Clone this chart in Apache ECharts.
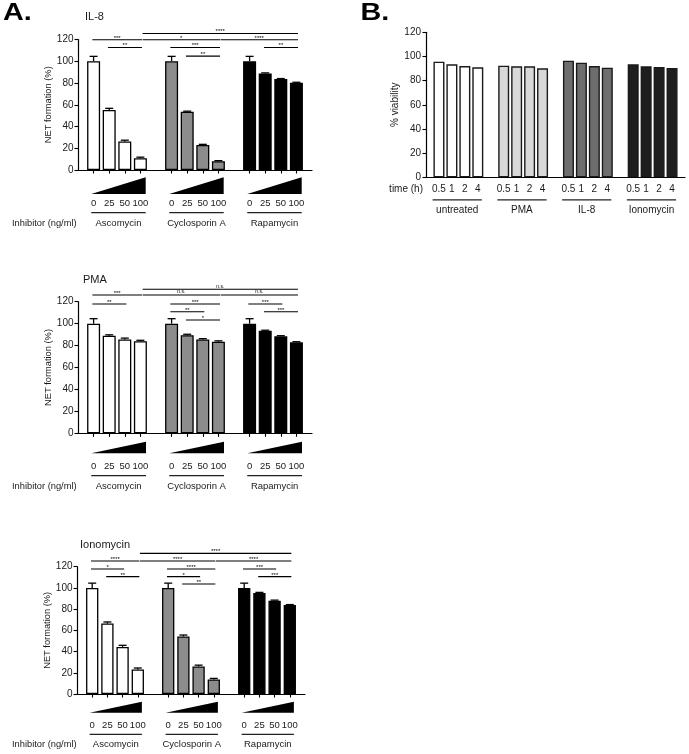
<!DOCTYPE html>
<html><head><meta charset="utf-8">
<script src="https://cdn.jsdelivr.net/npm/echarts@6/dist/echarts.min.js"></script>
<style>html,body{margin:0;padding:0;background:#fff}#c{width:689px;height:754px}</style>
</head><body><div id="c"></div><script>
const FONT = '"Liberation Sans", Arial, Helvetica, sans-serif';
const TXT = '#1a1a1a';

// ---------- Panel A data ----------
const doseLabels = ['0', '25', '50', '100'];
const inhibitors = ['Ascomycin', 'Cyclosporin A', 'Rapamycin'];
const inhibitorColors = ['#ffffff', '#8c8c8c', '#000000'];

const il8Ascomycin = [100, 55.2, 26.2, 10.8];
const il8Cyclosporin = [100, 53.5, 23, 8];
const il8Rapamycin = [100, 88.8, 83.6, 80.2];
const il8AscomycinErr = [4.5, 1.5, 1.2, 1];
const il8CyclosporinErr = [4.5, 0.6, 0.6, 0.6];
const il8RapamycinErr = [4.5, 0.5, 0.5, 0.5];

const pmaAscomycin = [100, 89, 85.5, 84];
const pmaCyclosporin = [100, 89.5, 85.5, 83.5];
const pmaRapamycin = [100, 93.5, 88.5, 83];
const pmaAscomycinErr = [4.5, 0.8, 1.3, 0.8];
const pmaCyclosporinErr = [4.5, 0.8, 0.8, 0.8];
const pmaRapamycinErr = [4.5, 0.5, 0.5, 0.5];

const ionoAscomycin = [100, 66.4, 44.4, 23.2];
const ionoCyclosporin = [100, 54.3, 25.9, 13.7];
const ionoRapamycin = [100, 95.3, 88, 83.8];
const ionoAscomycinErr = [4.5, 1.5, 1.5, 1.3];
const ionoCyclosporinErr = [4.5, 1.3, 1.3, 1];
const ionoRapamycinErr = [4.5, 0.5, 0.5, 0.5];

// significance brackets: [fromBar, toBar, level, label]  (bar = group*4 + dose)
const il8Brackets = [
  [3, 11, 125.5, '****'], [0, 3, 119.8, '***'], [3, 7, 119.8, '*'], [7, 11, 119.8, '****'],
  [1, 3, 112.7, '**'], [4, 7, 112.7, '***'], [9, 11, 112.7, '**'], [5, 7, 104.7, '**']
];
const pmaBrackets = [
  [3, 11, 131.3, 'n.s.'], [0, 3, 126.1, '***'], [3, 7, 126.1, 'n.s.'], [7, 11, 126.1, 'n.s.'],
  [0, 2, 117.9, '**'], [4, 7, 117.9, '***'], [8, 10, 117.9, '***'],
  [4, 6, 110.8, '**'], [9, 11, 110.8, '***'], [5, 7, 103.3, '*']
];
const ionoBrackets = [
  [3, 11, 132.6, '****'], [0, 3, 125.4, '****'], [3, 7, 125.4, '****'], [7, 11, 125.4, '****'],
  [0, 2, 117.8, '*'], [4, 7, 117.8, '****'], [8, 10, 117.8, '***'],
  [1, 3, 110.6, '**'], [4, 6, 110.6, '*'], [9, 11, 110.6, '***'], [5, 7, 103.7, '**']
];

// ---------- Panel B data ----------
const timeLabels = ['0.5', '1', '2', '4'];
const treatments = ['untreated', 'PMA', 'IL-8', 'Ionomycin'];
const treatmentColors = ['#ffffff', '#d8d8d8', '#6e6e6e', '#1e1e1e'];
const viabilityUntreated = [95.7, 93.5, 92.1, 91];
const viabilityPMA = [92.4, 91.9, 91.9, 90.2];
const viabilityIL8 = [96.5, 94.9, 92.1, 90.7];
const viabilityIonomycin = [93.5, 91.9, 91.3, 90.5];

// ---------- helpers ----------
function buildCats(groups, perGroup) {
  const cats = [], labels = [], isBar = [], colorIdx = [];
  let pad = 0;
  const addBlank = () => { cats.push('_' + (pad++)); labels.push(''); isBar.push(false); colorIdx.push(-1); };
  addBlank();
  groups.forEach((g, gi) => {
    if (gi > 0) addBlank();
    perGroup.forEach((d) => { cats.push(g + '|' + d); labels.push(d); isBar.push(true); colorIdx.push(gi); });
  });
  addBlank();
  return { cats, labels, isBar, colorIdx };
}
const catOf = (bar) => 1 + Math.floor(bar / 4) * 5 + (bar % 4);

function errRender(cap) {
  return function (params, api) {
    const x = api.value(0), v = api.value(1), e = api.value(2);
    const b = api.coord([x, v]), t = api.coord([x, v + e]);
    const st = { stroke: '#000', lineWidth: 1.3 };
    return { type: 'group', children: [
      { type: 'line', shape: { x1: b[0], y1: b[1], x2: t[0], y2: t[1] }, style: st },
      { type: 'line', shape: { x1: t[0] - cap / 2, y1: t[1], x2: t[0] + cap / 2, y2: t[1] }, style: st }
    ] };
  };
}

function bracketRender(list) {
  return function (params, api) {
    const item = list[params.dataIndex];
    const a = api.coord([api.value(0), api.value(2)]);
    const b = api.coord([api.value(1), api.value(2)]);
    const slot = api.coord([1, 0])[0] - api.coord([0, 0])[0];
    const fromDose = item[0] % 4;
    const x1 = a[0] + (fromDose === 3 ? 0.14 : -0.08) * slot;
    const x2 = b[0] + 0.1 * slot;
    const isNs = item[3] === 'n.s.';
    return { type: 'group', children: [
      { type: 'line', shape: { x1: x1, y1: a[1], x2: x2, y2: b[1] }, style: { stroke: '#000', lineWidth: 1.1 } },
      { type: 'text', x: (x1 + x2) / 2, y: a[1] + (isNs ? -0.6 : 1.2),
        style: { text: item[3], fontSize: isNs ? 5 : 6, fontFamily: FONT, fill: '#000',
          align: 'center', verticalAlign: 'bottom', textAlign: 'center', textVerticalAlign: 'bottom' } }
    ] };
  };
}

function decoRender(names, o) {
  return function (params, api) {
    const p0 = api.coord([api.value(0), 0]);
    const p1 = api.coord([api.value(1), 0]);
    const slot = api.coord([1, 0])[0] - api.coord([0, 0])[0];
    const xl = p0[0] + o.left * slot, xr = p1[0] + o.right * slot, y0 = p0[1];
    const children = [];
    if (o.tri) {
      children.push({ type: 'polygon', shape: { points: [[xl, y0 + o.tri[1]], [xr, y0 + o.tri[1]], [xr, y0 + o.tri[0]]] },
        style: { fill: '#000' } });
    }
    children.push({ type: 'line', shape: { x1: xl, y1: y0 + o.line, x2: xr, y2: y0 + o.line },
      style: { stroke: '#222', lineWidth: 1.3 } });
    children.push({ type: 'text', x: (xl + xr) / 2, y: y0 + o.label,
      style: { text: names[params.dataIndex], fontSize: o.fontSize, fontFamily: FONT, fill: TXT,
        align: 'center', verticalAlign: 'middle', textAlign: 'center', textVerticalAlign: 'middle' } });
    return { type: 'group', children: children };
  };
}

const option = {
  animation: false, backgroundColor: '#fff', textStyle: { fontFamily: FONT },
  grid: [], xAxis: [], yAxis: [], series: [], graphic: []
};

const panelsA = [
  { title: 'IL-8', titlePos: [85, 17.3], vals: [il8Ascomycin, il8Cyclosporin, il8Rapamycin],
    errs: [il8AscomycinErr, il8CyclosporinErr, il8RapamycinErr], brackets: il8Brackets,
    grid: { left: 78, top: 39.5, width: 234, height: 130.5 }, barWidth: 13, labelMargin: 28.5,
    deco: { left: -0.15, right: 0.34, tri: [7.3, 24], line: 42.7, label: 53.3, fontSize: 9.5 } },
  { title: 'PMA', titlePos: [83, 280], vals: [pmaAscomycin, pmaCyclosporin, pmaRapamycin],
    errs: [pmaAscomycinErr, pmaCyclosporinErr, pmaRapamycinErr], brackets: pmaBrackets,
    grid: { left: 78, top: 301.7, width: 234, height: 131.6 }, barWidth: 13, labelMargin: 28,
    deco: { left: -0.15, right: 0.36, tri: [8.4, 20], line: 42.4, label: 53.4, fontSize: 9.5 } },
  { title: 'Ionomycin', titlePos: [80, 545], vals: [ionoAscomycin, ionoCyclosporin, ionoRapamycin],
    errs: [ionoAscomycinErr, ionoCyclosporinErr, ionoRapamycinErr], brackets: ionoBrackets,
    grid: { left: 77, top: 566.7, width: 228, height: 127.3 }, barWidth: 12.3, labelMargin: 26.5,
    deco: { left: -0.17, right: 0.27, tri: [7.7, 18.7], line: 40.3, label: 50.3, fontSize: 9.5 } }
];

const A = buildCats(inhibitors, doseLabels);

panelsA.forEach((p, i) => {
  option.grid.push(Object.assign({ containLabel: false }, p.grid));
  option.xAxis.push({
    gridIndex: i, type: 'category', data: A.cats, boundaryGap: false,
    axisLine: { lineStyle: { color: '#000', width: 1.2 } },
    axisTick: { length: 3.5, interval: (idx) => A.isBar[idx], lineStyle: { color: '#000', width: 1.1 } },
    axisLabel: { interval: 0, margin: p.labelMargin, fontSize: 9.5, color: TXT, fontFamily: FONT,
      formatter: (v, idx) => A.labels[idx] }
  });
  option.yAxis.push({
    gridIndex: i, type: 'value', min: 0, max: 120, interval: 20,
    axisLine: { show: true, lineStyle: { color: '#000', width: 1.2 } },
    axisTick: { show: true, length: 3.5, lineStyle: { color: '#000', width: 1.1 } },
    axisLabel: { fontSize: 10, color: TXT, margin: 4.5, fontFamily: FONT },
    splitLine: { show: false },
    name: 'NET formation (%)', nameLocation: 'middle', nameGap: 23.5,
    nameTextStyle: { fontSize: 9.3, color: TXT, fontFamily: FONT }
  });
  const barData = A.cats.map((c, ci) => {
    if (!A.isBar[ci]) return null;
    const g = A.colorIdx[ci], d = doseLabels.indexOf(A.labels[ci]);
    return { value: p.vals[g][d], itemStyle: { color: inhibitorColors[g] } };
  });
  option.series.push({ type: 'bar', xAxisIndex: i, yAxisIndex: i, barWidth: p.barWidth, data: barData,
    itemStyle: { borderColor: '#000', borderWidth: 1.3 }, z: 2 });
  const errData = [];
  p.vals.forEach((arr, g) => arr.forEach((v, d) => errData.push([catOf(g * 4 + d), v, p.errs[g][d]])));
  option.series.push({ type: 'custom', xAxisIndex: i, yAxisIndex: i, clip: false, z: 3,
    encode: { x: 0, y: 1 }, data: errData, renderItem: errRender(8) });
  option.series.push({ type: 'custom', xAxisIndex: i, yAxisIndex: i, clip: false, z: 3,
    encode: { x: [0, 1], y: 2 }, data: p.brackets.map(b => [catOf(b[0]), catOf(b[1]), b[2]]),
    renderItem: bracketRender(p.brackets) });
  option.series.push({ type: 'custom', xAxisIndex: i, yAxisIndex: i, clip: false, z: 3,
    encode: { x: [0, 1], y: 2 }, data: inhibitors.map((n, g) => [catOf(g * 4), catOf(g * 4 + 3), 0]),
    renderItem: decoRender(inhibitors, p.deco) });
  option.graphic.push({ type: 'text', x: p.titlePos[0], y: p.titlePos[1],
    style: { text: p.title, font: '11px ' + FONT, fill: TXT, textVerticalAlign: 'middle', verticalAlign: 'middle' } });
  option.graphic.push({ type: 'text', x: 12, y: p.grid.top + p.grid.height + p.deco.label,
    style: { text: 'Inhibitor (ng/ml)', font: '9.3px ' + FONT, fill: TXT, textVerticalAlign: 'middle', verticalAlign: 'middle' } });
});

// ---------- Panel B ----------
const B = buildCats(treatments, timeLabels);
const viab = [viabilityUntreated, viabilityPMA, viabilityIL8, viabilityIonomycin];
const bi = 3;
option.grid.push({ left: 426, top: 32.3, width: 259, height: 145 });
option.xAxis.push({
  gridIndex: bi, type: 'category', data: B.cats, boundaryGap: false,
  axisLine: { lineStyle: { color: '#000', width: 1.2 } },
  axisTick: { show: false },
  axisLabel: { interval: 0, margin: 7, fontSize: 10, color: TXT, fontFamily: FONT,
    formatter: (v, idx) => B.labels[idx] }
});
option.yAxis.push({
  gridIndex: bi, type: 'value', min: 0, max: 120, interval: 20,
  axisLine: { show: true, lineStyle: { color: '#000', width: 1.2 } },
  axisTick: { show: true, length: 3.5, lineStyle: { color: '#000', width: 1.1 } },
  axisLabel: { fontSize: 10, color: TXT, margin: 5, fontFamily: FONT },
  splitLine: { show: false },
  name: '% viability', nameLocation: 'middle', nameGap: 25,
  nameTextStyle: { fontSize: 10, color: TXT, fontFamily: FONT }
});
option.series.push({ type: 'bar', xAxisIndex: bi, yAxisIndex: bi, barWidth: 11,
  data: B.cats.map((c, ci) => {
    if (!B.isBar[ci]) return null;
    const g = B.colorIdx[ci], d = timeLabels.indexOf(B.labels[ci]);
    return { value: viab[g][d], itemStyle: { color: treatmentColors[g] } };
  }),
  itemStyle: { borderColor: '#1a1a1a', borderWidth: 1.4 }, z: 2 });
option.series.push({ type: 'custom', xAxisIndex: bi, yAxisIndex: bi, clip: false, z: 3,
  encode: { x: [0, 1], y: 2 }, data: treatments.map((n, g) => [catOf(g * 4), catOf(g * 4 + 3), 0]),
  renderItem: decoRender(treatments, { left: -0.49, right: 0.31, line: 22.5, label: 33.4, fontSize: 10 }) });
option.graphic.push({ type: 'text', x: 423, y: 189,
  style: { text: 'time (h)', font: '10px ' + FONT, fill: TXT, textAlign: 'right', align: 'right',
    textVerticalAlign: 'middle', verticalAlign: 'middle' } });

// panel letters
option.graphic.push({ type: 'text', x: 3, y: 13.5, scaleX: 1.25,
  style: { text: 'A.', font: 'bold 23px ' + FONT, fill: '#000', textVerticalAlign: 'middle', verticalAlign: 'middle' } });
option.graphic.push({ type: 'text', x: 360.5, y: 13.5, scaleX: 1.25,
  style: { text: 'B.', font: 'bold 23px ' + FONT, fill: '#000', textVerticalAlign: 'middle', verticalAlign: 'middle' } });

const chart = echarts.init(document.getElementById('c'), null, { renderer: 'canvas' });
chart.setOption(option);
</script></body></html>
